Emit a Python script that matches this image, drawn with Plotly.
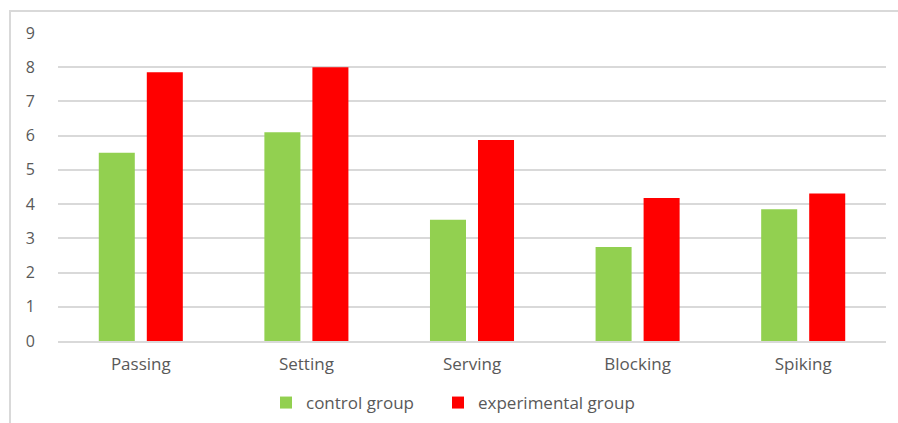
import plotly.graph_objects as go

categories = ["Passing", "Setting", "Serving", "Blocking", "Spiking"]
control_group = [5.5, 6.1, 3.54, 2.75, 3.85]
experimental_group = [7.85, 8.0, 5.87, 4.18, 4.31]
y_ticks = [0, 1, 2, 3, 4, 5, 6, 7, 8, 9]

W, H = 898, 423
ML, MR, MT, MB = 58, 12, 33, 82
pw, ph = W - ML - MR, H - MT - MB

fig = go.Figure()
fig.add_trace(go.Bar(x=categories, y=control_group, name="control group",
                     marker=dict(color="#92d050", line=dict(width=0)),
                     legend="legend"))
fig.add_trace(go.Bar(x=categories, y=experimental_group, name="experimental group",
                     marker=dict(color="#ff0000", line=dict(width=0)),
                     legend="legend2"))

# outer chart frame
fig.add_shape(type="rect", xref="paper", yref="paper",
              x0=(10 - ML) / pw, x1=(W + 20 - ML) / pw,
              y0=-(H + 20 - MT - ph) / ph, y1=1 + (MT - 11) / ph,
              line=dict(color="#d9d9d9", width=2), fillcolor="rgba(0,0,0,0)",
              layer="below")

legend_y = -(403 - MT - ph) / ph
legend_style = dict(orientation="h", xanchor="left", y=legend_y, yanchor="middle",
                    font=dict(size=17, color="#595959"), itemwidth=30,
                    bgcolor="rgba(0,0,0,0)")

fig.update_layout(
    width=W, height=H,
    margin=dict(l=ML, r=MR, t=MT, b=MB, autoexpand=False),
    paper_bgcolor="white", plot_bgcolor="white",
    barmode="group", bargap=0.42, bargroupgap=0.25,
    font=dict(family="Open Sans, sans-serif", color="#595959", size=17),
    showlegend=True,
    legend=dict(x=(266 - ML) / pw, **legend_style),
    legend2=dict(x=(438 - ML) / pw, **legend_style),
    xaxis=dict(showgrid=False, showline=True, linecolor="#d9d9d9", linewidth=2,
               ticks="", ticklabelstandoff=7,
               tickfont=dict(size=17, color="#595959")),
    yaxis=dict(range=[0, 9], tickvals=y_ticks, showgrid=True,
               gridcolor="#d9d9d9", gridwidth=1.5, zeroline=False,
               showline=False, ticks="", ticklabelstandoff=22,
               tickfont=dict(size=16, color="#595959")),
)

fig.write_html("out.html")
